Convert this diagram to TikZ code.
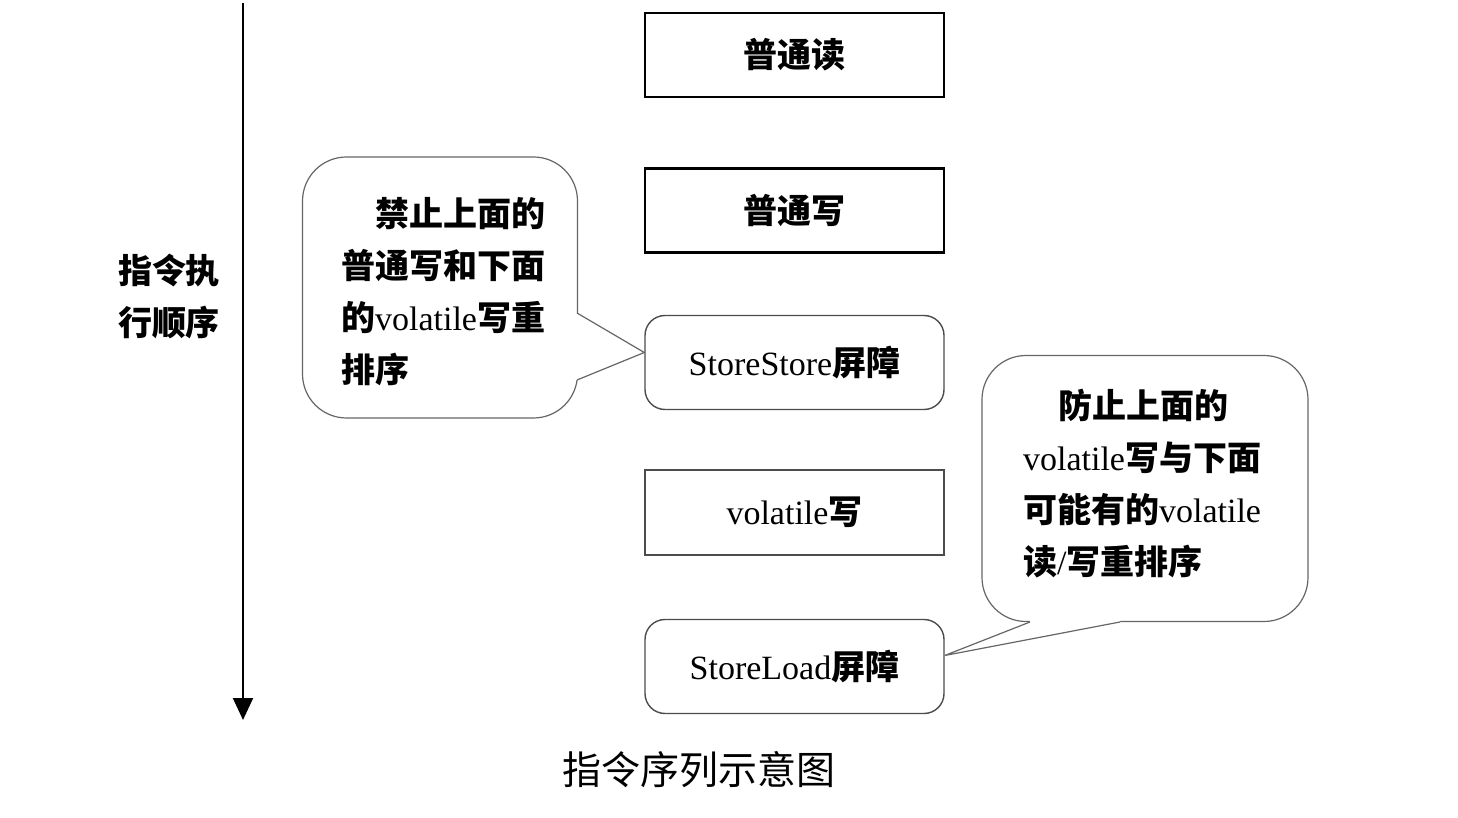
\documentclass[tikz,border=0pt]{standalone}
\usepackage{fontspec}
\setmainfont{Noto Sans CJK SC}
\newfontfamily\lat{Liberation Serif}
\usetikzlibrary{arrows.meta}
\begin{document}
\begin{tikzpicture}[x=0.5pt,y=-0.5pt,
  txt/.style={font=\fontsize{17pt}{26pt}\selectfont\bfseries},
  solidbox/.style={draw=black,line width=1.1pt,minimum width=149.5pt,minimum height=42pt,inner sep=0pt,txt},
  graybox/.style={draw=black!70,line width=0.7pt,minimum width=149.5pt,minimum height=42.5pt,inner sep=0pt,txt},
  roundbox/.style={graybox,rounded corners=10pt,minimum height=47pt},
  callout/.style={draw=black!60,line width=0.6pt,rounded corners=22pt,fill=white,inner sep=0pt},
  ptr/.style={draw=black!60,line width=0.6pt}]
\useasboundingbox (0,0) rectangle (1458,818);
\fill[white] (0,0) rectangle (1458,818);

% time axis
\coordinate (atop) at (243,3);
\coordinate (abot) at (243,720);
\draw[line width=1pt,-{Triangle[width=10pt,length=11pt]}] (atop) -- (abot);
\node[txt,align=left] (order) at (169,296) {指令执\\行顺序};

% instruction boxes
\node[solidbox] (rd) at (794.5,55) {普通读};
\node[solidbox] (wr) at (794.5,210.5) {普通写};
\node[roundbox] (ss) at (794.5,362.5) {{\lat\mdseries StoreStore}屏障};
\node[graybox] (vw) at (794.5,512.5) {{\lat\mdseries volatile}写};
\node[roundbox] (sl) at (794.5,666.5) {{\lat\mdseries StoreLoad}屏障};

% callout 1
\node[callout,minimum width=137.5pt,minimum height=130.5pt] (c1) at (440,287.5) {};
\node[txt,align=left,anchor=north west] (c1t) at (334,190)
  {\hspace*{1em}禁止上面的\\普通写和下面\\的{\lat\mdseries volatile}写重\\排序};
\coordinate (c1a) at (577,313);
\coordinate (c1b) at (577,380);
\coordinate (c1tip) at ([yshift=5pt]ss.west);
\fill[white] ([xshift=-1pt]c1a) -- (c1a) -- (c1tip) -- (c1b) -- ([xshift=-1pt]c1b) -- cycle;
\draw[ptr] (c1a) -- (c1tip) -- (c1b);

% callout 2
\node[callout,minimum width=163pt,minimum height=133pt] (c2) at (1145,488.5) {};
\node[txt,align=left,anchor=north west] (c2t) at (1016,382)
  {\hspace*{1.05em}防止上面的\\{\lat\mdseries volatile}写与下面\\可能有的{\lat\mdseries volatile}\\读{\lat\mdseries /}写重排序};
\coordinate (c2a) at (1030,622);
\coordinate (c2b) at (1120,622);
\coordinate (c2tip) at ([yshift=5.5pt]sl.east);
\fill[white] ([yshift=1pt]c2a) -- (c2a) -- (c2tip) -- (c2b) -- ([yshift=1pt]c2b) -- cycle;
\draw[ptr] (c2a) -- (c2tip) -- (c2b);

% caption
\node[font=\fontsize{19.5pt}{24pt}\selectfont] (cap) at (699,770) {指令序列示意图};
\end{tikzpicture}
\end{document}
